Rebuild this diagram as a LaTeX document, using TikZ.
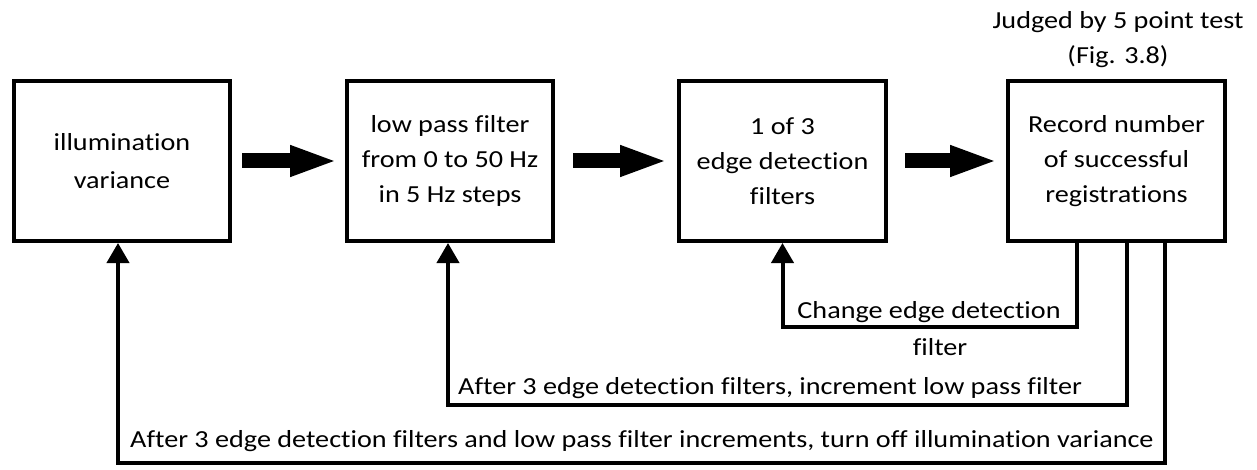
\documentclass[tikz,border=0pt]{standalone}
\usepackage{fontspec}
\setmainfont{Carlito}[Ligatures={NoCommon},FakeStretch=1.15]
\usetikzlibrary{arrows.meta}
\begin{document}
\begin{tikzpicture}[x=1pt,y=-1pt,
  every node/.style={font=\fontsize{24.5}{35}\selectfont},
  blk/.style={draw,line width=4pt,inner sep=0pt,align=center,minimum height=160pt},
  fat/.style={line width=15pt,-{Triangle[length=48pt,width=28pt]}},
  fb/.style={line width=4pt,-{Triangle[length=20pt,width=22pt]}},
  lbl/.style={inner sep=0pt}]
\useasboundingbox (0,0) rectangle (1257,470);
\node[blk,minimum width=216pt] (b1) at (122,161) {\raisebox{-3pt}{illumination}\\[3pt]\raisebox{-3pt}{variance}};
\node[blk,minimum width=206pt] (b2) at (450,161) {low pass filter\\from 0 to 50 Hz\\in 5 Hz steps};
\node[blk,minimum width=207pt] (b3) at (782.5,161) {1 of 3\\edge detection\\filters};
\node[blk,minimum width=217pt] (b4) at (1116.5,161) {Record number\\of successful\\registrations};
\node[lbl,align=center] (note) at (1118,40) {Judged by 5 point test\\(Fig. 3.8)};
\draw[fat,shorten <=10pt,shorten >=7pt] (b1) -- (b2);
\draw[fat,shorten <=18pt,shorten >=9pt] (b2) -- (b3);
\draw[fat,shorten <=17pt,shorten >=8pt] (b3) -- (b4);
\coordinate (c1) at (1077,327);
\coordinate (c2) at (1127,405);
\coordinate (c3) at (1165,463);
\draw[fb] (b4.south -| c1) |- (c1) -| (b3.south);
\draw[fb] (b4.south -| c2) |- (c2) -| ([xshift=-2pt]b2.south);
\draw[fb] (b4.south -| c3) |- (c3) -| ([xshift=-4pt]b1.south);
\node[lbl] (l1a) at (929,312) {Change edge detection};
\node[lbl] (l1b) at (940,347) {filter};
\node[lbl,anchor=west] (l2) at (458,388) {After 3 edge detection filters, increment low pass filter};
\node[lbl,anchor=west] (l3) at (130,441) {After 3 edge detection filters and low pass filter increments, turn off illumination variance};
\end{tikzpicture}
\end{document}
